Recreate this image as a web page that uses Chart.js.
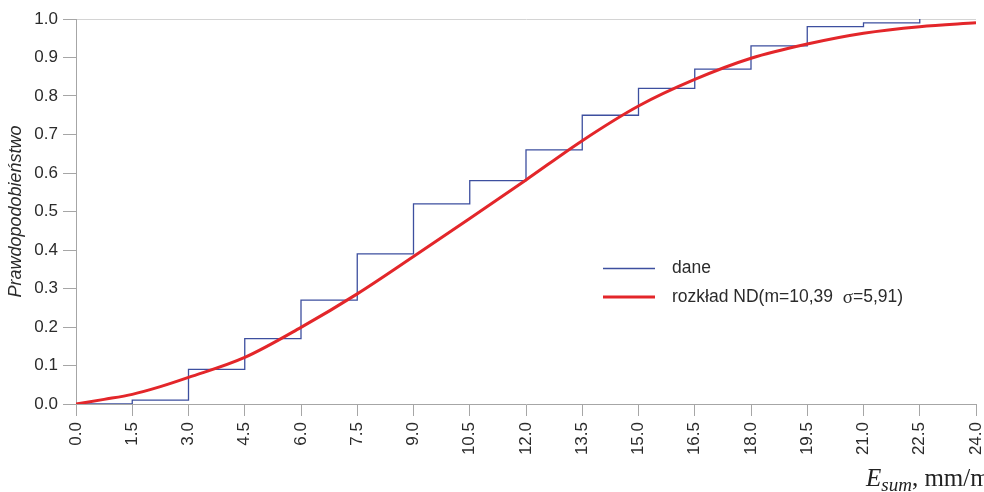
<!DOCTYPE html>
<html>
<head>
<meta charset="utf-8">
<script src="https://cdn.jsdelivr.net/npm/chart.js@4.4.0/dist/chart.umd.min.js"></script>
<style>
  html, body { margin: 0; padding: 0; background: #fff; }
  #wrap { width: 984px; height: 492px; position: relative; }
</style>
</head>
<body>
<div id="wrap"><canvas id="dystrybuanta"></canvas></div>
<script>
// dane empiryczne (schodki)
const daneX = [0, 1.5, 3.0, 4.5, 6.0, 7.5, 9.0, 10.5, 12.0, 13.5, 15.0, 16.5, 18.0, 19.5, 21.0, 22.5];
const daneY = [0, 0.01, 0.09, 0.17, 0.27, 0.39, 0.52, 0.58, 0.66, 0.75, 0.82, 0.87, 0.93, 0.98, 0.99, 1.0];

// krzywa rozkładu ND
const ndX = [0, 0.75, 1.5, 2.25, 3.0, 4.5, 6.0, 7.5, 9.0, 10.5, 12.0, 13.5, 15.0, 16.5, 18.0, 19.5, 21.0, 22.5, 24.0];
const ndY = [0, 0.012, 0.025, 0.045, 0.069, 0.121, 0.199, 0.286, 0.383, 0.482, 0.582, 0.684, 0.774, 0.843, 0.898, 0.935, 0.963, 0.98, 0.99];

// etykiety osi X
const osX = [0, 1.5, 3.0, 4.5, 6.0, 7.5, 9.0, 10.5, 12.0, 13.5, 15.0, 16.5, 18.0, 19.5, 21.0, 22.5, 24.0];

const etykiety = ['dane', 'rozkład ND(m=10,39  σ=5,91)'];

const kolorDane = '#3d4f9f';
const kolorND = '#e3262a';
const kolorOsi = '#a6a6a6';
const kolorTekstu = '#2b2b2b';

const fontSans = '"Liberation Sans", Arial, sans-serif';
const fontSerif = '"Liberation Serif", "Times New Roman", serif';

const toPoints = (xs, ys) => xs.map((x, i) => ({ x: x, y: ys[i] }));

// legenda wewnątrz obszaru wykresu
const legendaWew = {
    id: 'legendaWew',
    afterDraw(chart) {
        const ctx = chart.ctx;
        ctx.save();
        ctx.textBaseline = 'middle';
        ctx.font = '17.5px ' + fontSans;
        ctx.fillStyle = kolorTekstu;

        ctx.strokeStyle = kolorDane;
        ctx.lineWidth = 1.3;
        ctx.beginPath(); ctx.moveTo(603, 268.5); ctx.lineTo(655, 268.5); ctx.stroke();
        ctx.fillText(etykiety[0], 672, 268);

        ctx.strokeStyle = kolorND;
        ctx.lineWidth = 3;
        ctx.beginPath(); ctx.moveTo(603, 297); ctx.lineTo(655, 297); ctx.stroke();

        // sigma w kroju szeryfowym, jak w oryginale
        const czesci = etykiety[1].split('σ');
        let x = 672;
        ctx.fillText(czesci[0], x, 297);
        x += ctx.measureText(czesci[0]).width;
        ctx.font = '19px ' + fontSerif;
        ctx.fillText('σ', x, 298);
        x += ctx.measureText('σ').width;
        ctx.font = '17.5px ' + fontSans;
        ctx.fillText(czesci[1], x, 297);
        ctx.restore();
    }
};

// tytuł osi X: E_sum, mm/m
const tytulX = {
    id: 'tytulX',
    afterDraw(chart) {
        const ctx = chart.ctx;
        ctx.save();
        ctx.fillStyle = '#222';
        ctx.textBaseline = 'alphabetic';
        let x = 866;
        ctx.font = 'italic 25px ' + fontSerif;
        ctx.fillText('E', x, 486);
        x += ctx.measureText('E').width;
        ctx.font = 'italic 19px ' + fontSerif;
        ctx.fillText('sum', x, 491);
        x += ctx.measureText('sum').width;
        ctx.font = '25px ' + fontSerif;
        ctx.fillText(', mm/m', x, 486);
        ctx.restore();
    }
};

new Chart(document.getElementById('dystrybuanta').getContext('2d'), {
    type: 'line',
    data: {
        datasets: [{
            label: etykiety[0],
            data: toPoints(daneX, daneY),
            borderColor: kolorDane,
            borderWidth: 1.3,
            stepped: true,
            pointRadius: 0,
            fill: false,
            order: 1
        }, {
            label: etykiety[1],
            data: toPoints(ndX, ndY),
            borderColor: kolorND,
            borderWidth: 3,
            cubicInterpolationMode: 'monotone',
            pointRadius: 0,
            fill: false,
            order: 0
        }]
    },
    options: {
        responsive: true,
        maintainAspectRatio: false,
        animation: false,
        layout: {
            padding: { left: 0, right: 8, top: 19, bottom: 0 }
        },
        plugins: {
            legend: { display: false },
            tooltip: { enabled: false }
        },
        scales: {
            x: {
                type: 'linear',
                min: 0,
                max: 24,
                afterFit: axis => {
                    axis.height = 88;
                    axis.paddingLeft = 0;
                    axis.paddingRight = 0;
                },
                afterBuildTicks: axis => {
                    axis.ticks = osX.map(v => ({ value: v }));
                },
                border: { color: kolorOsi, width: 1 },
                grid: {
                    drawOnChartArea: false,
                    tickLength: 12,
                    color: kolorOsi
                },
                ticks: {
                    minRotation: 90,
                    maxRotation: 90,
                    padding: 6,
                    color: kolorTekstu,
                    font: { family: fontSans, size: 17 },
                    callback: v => Number(v).toFixed(1)
                }
            },
            y: {
                min: 0,
                max: 1,
                afterFit: axis => { axis.width = 76; },
                border: { color: kolorOsi, width: 1 },
                grid: {
                    tickLength: 13,
                    tickColor: kolorOsi,
                    color: ctx => (ctx.tick && ctx.tick.value === 1) ? '#d4d4d4' : 'rgba(0,0,0,0)'
                },
                ticks: {
                    stepSize: 0.1,
                    padding: 5,
                    color: kolorTekstu,
                    font: { family: fontSans, size: 17 },
                    callback: v => Number(v).toFixed(1)
                },
                title: {
                    display: true,
                    text: 'Prawdopodobieństwo',
                    color: kolorTekstu,
                    font: { family: fontSans, size: 18, style: 'italic' },
                    padding: { top: 5, bottom: 0 }
                }
            }
        }
    },
    plugins: [legendaWew, tytulX]
});
</script>
</body>
</html>
